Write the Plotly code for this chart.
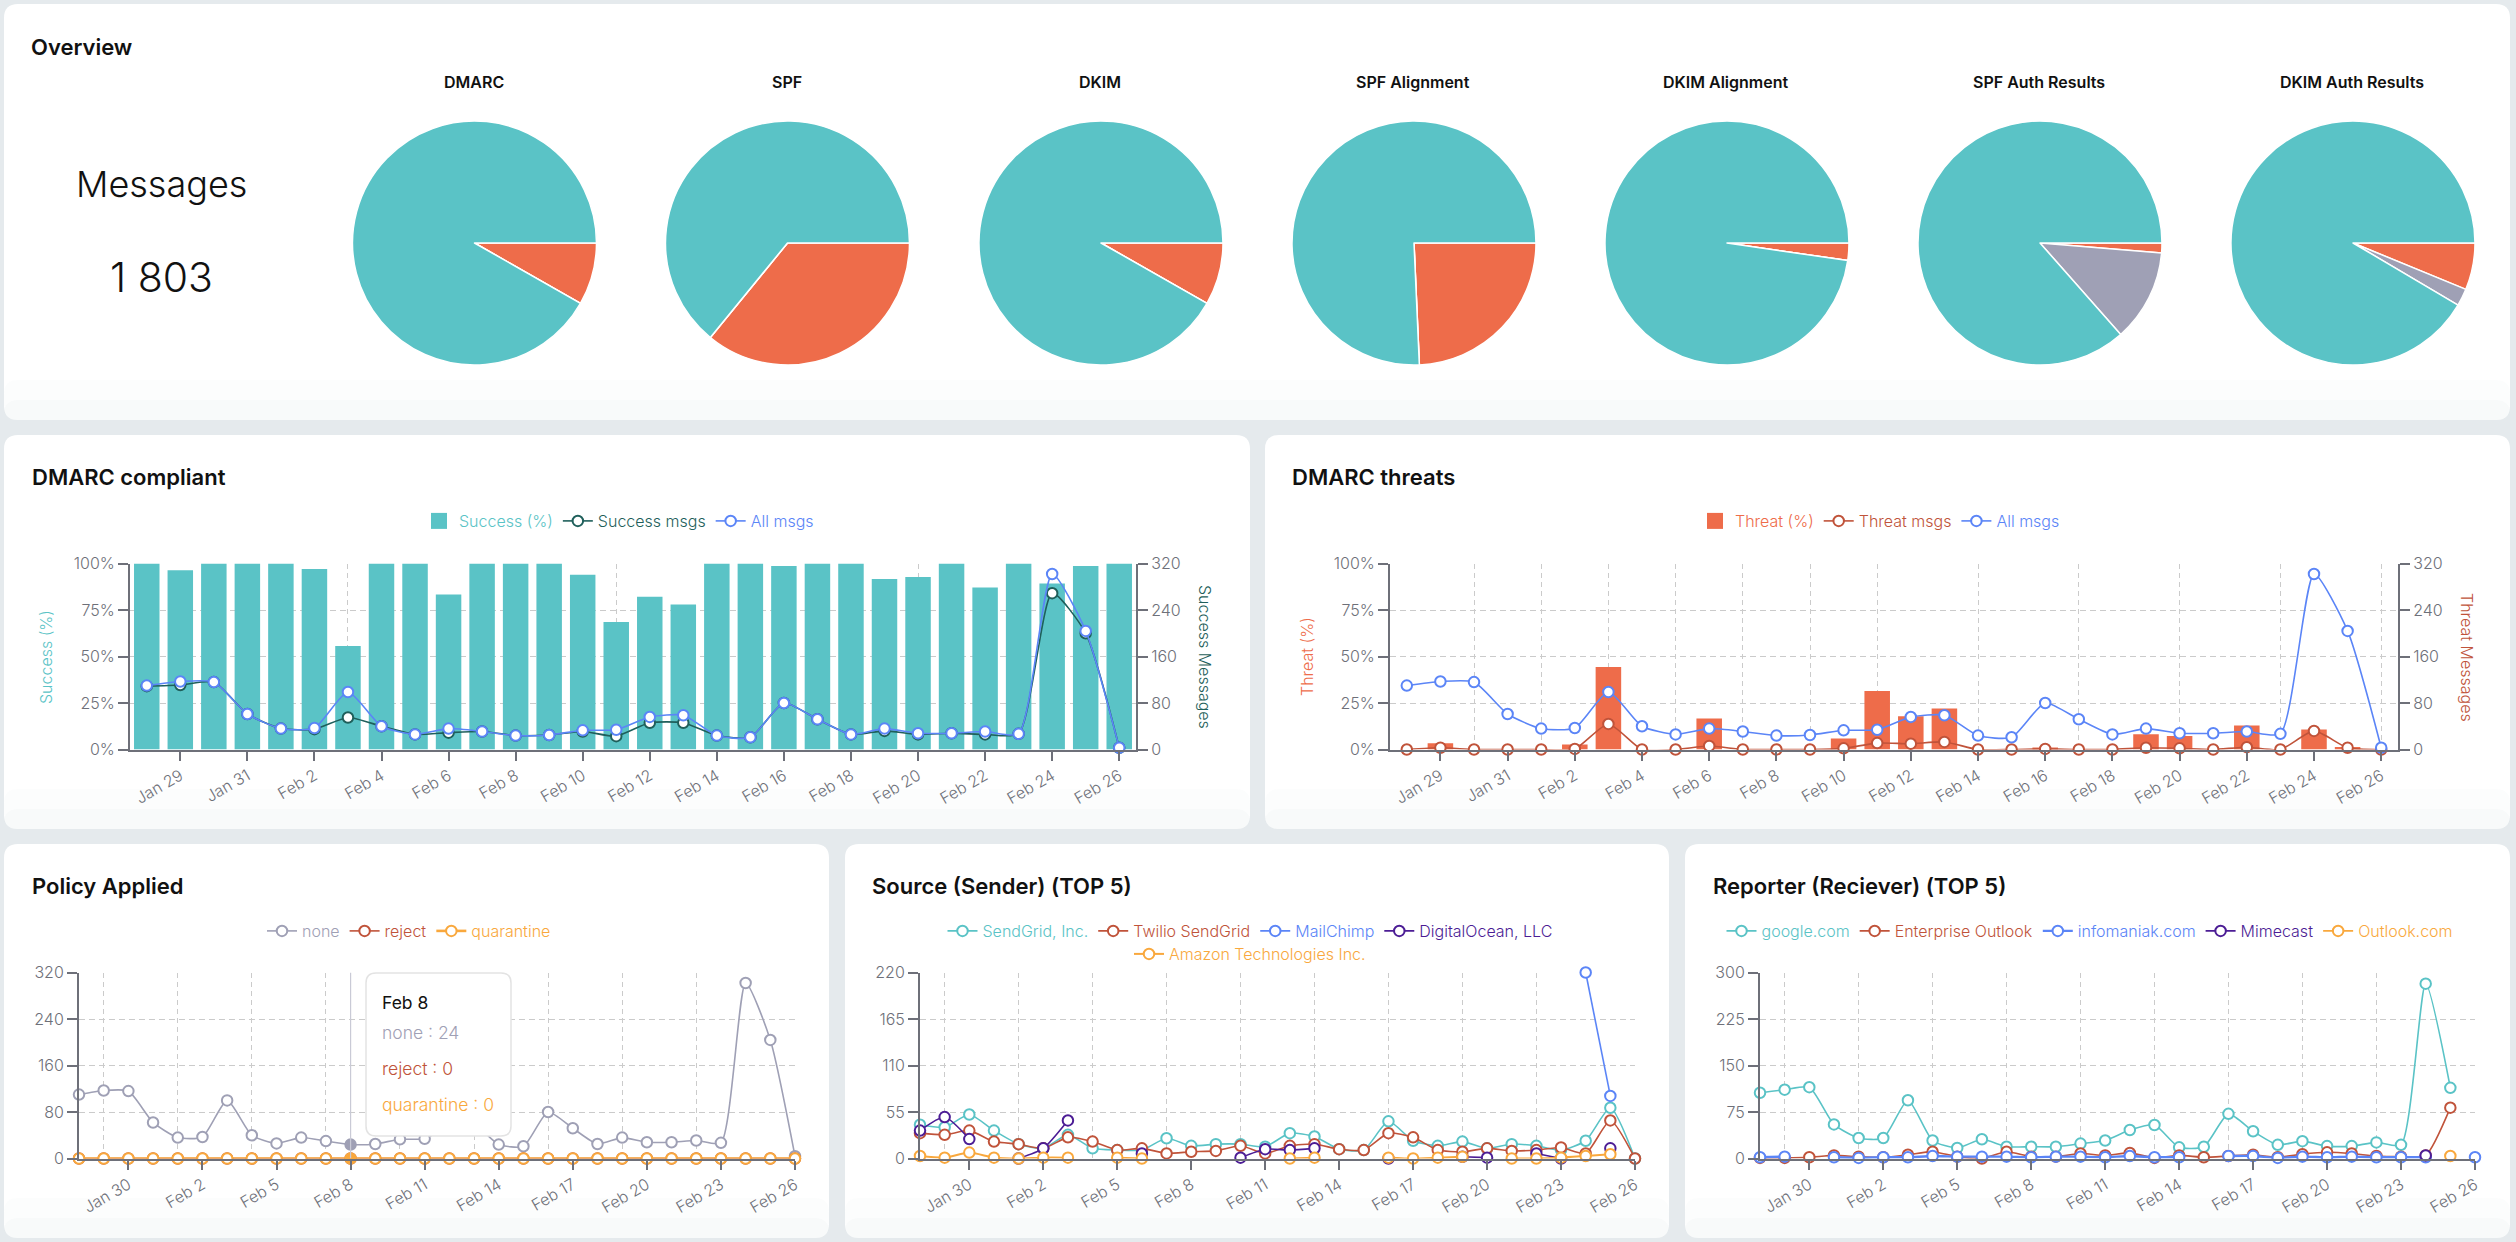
import plotly.graph_objects as go

W = 2516
H = 1242

# dates
days = ["Jan 28", "Jan 29", "Jan 30", "Jan 31"] + [f"Feb {d}" for d in range(1, 27)]

# overview pies
pie_titles = ["DMARC", "SPF", "DKIM", "SPF Alignment", "DKIM Alignment", "SPF Auth Results", "DKIM Auth Results"]
pie_labels = ["Fail", "Other", "Pass"]
pie_fail = [8.25, 35.9, 8.25, 24.3, 2.3, 1.3, 6.2]
pie_other = [0, 0, 0, 0, 0, 12.2, 2.3]
pie_pass = [91.75, 64.1, 91.75, 75.7, 97.7, 86.5, 91.5]

# DMARC compliant / threats
success_pct = [100, 96.4, 100, 100, 100, 97.1, 55.6, 100, 100, 83.3, 100, 100, 100, 93.9, 68.5,
               82.1, 78, 100, 100, 98.6, 100, 100, 91.6, 92.8, 100, 87.1, 100, 89.2, 98.6, 100]
success_msgs = [109, 111, 116, 61, 36, 35, 55, 40, 26, 29, 31, 24, 25, 31, 23,
                46, 46, 24, 21, 80, 52, 26, 32, 26, 28, 26, 27, 269, 200, 3]
all_msgs = [110, 117, 116, 61, 36, 37, 99, 40, 26, 36, 31, 24, 25, 33, 34,
            56, 59, 24, 21, 80, 52, 26, 36, 28, 28, 31, 27, 302, 204, 3]
threat_pct = [0, 3.4, 0, 0, 0, 2.7, 44.3, 0, 0, 16.7, 0, 0, 0, 5.9, 31.4,
              17.9, 22, 0, 0, 1.1, 0, 0, 8.2, 7.2, 0, 12.9, 0, 10.8, 1.4, 0]
threat_msgs = [0, 3, 0, 0, 0, 1, 44, 0, 0, 6, 0, 0, 0, 2, 11,
               10, 13, 0, 0, 1, 0, 0, 3, 2, 0, 4, 0, 32, 3, 0]

# policy applied
policy_none = [110, 117, 116, 62, 36, 37, 100, 40, 26, 36, 30, 24, 25, 33, 34,
               56, 59, 24, 21, 80, 52, 25, 36, 28, 28, 31, 27, 302, 204, 4]
policy_reject = [0] * 30
policy_quarantine = [0] * 30

# source (sender)
sendgrid = [40, 37, 52, 33, 17, 12, 28, 12, 10, 10, 24, 15, 17, 17, 14,
            30, 26, 11, 10, 44, 21, 15, 20, 12, 17, 15, 10, 21, 60, 0]
twilio = [30, 28, 33, 20, 17, 12, 25, 20, 10, 12, 6, 8, 9, 15, 6,
          15, 17, 11, 10, 30, 25, 10, 8, 12, 9, 10, 13, 6, 45, 0]
mailchimp = [None] * 27 + [220, 74, None]
digitalocean = [33, 49, 23, None, 0, 12, 45, None, None, 6, None, None, None, 1, 11,
                10, 12, None, None, 0, None, None, 2, 1, None, 6, 0, None, 12, None]
amazon = [3, 1, 7, 1, 0, 1, 1, None, 1, 0, None, None, None, None, None,
          0, 1, None, None, 1, 0, 1, 2, None, 0, 0, 1, 3, 5, None]

# reporter (receiver)
google = [106, 111, 115, 55, 33, 33, 94, 29, 17, 31, 19, 19, 19, 24, 29,
          46, 54, 18, 19, 72, 44, 22, 28, 20, 20, 26, 22, 282, 114, None]
enterprise = [1, 1, 2, 5, 3, 2, 6, 11, 3, 0, 11, 3, 3, 8, 5,
              9, 1, 5, 2, 4, 6, 2, 7, 10, 8, 4, 3, 5, 82, None]
infomaniak = [2, 3, None, 2, 1, 2, 2, 4, 3, 3, 3, 2, 3, 3, 2,
              4, 2, 2, None, 4, 4, 1, 3, 2, 3, 2, 2, 2, None, 2]
mimecast = [None] * 27 + [5, None, None]
outlook = [None] * 28 + [4, None]

TEAL = "#5AC3C6"
ORANGE = "#EE6C4A"
BLUE = "#5B85F7"
DARK = "#1F5F5B"
RUST = "#C0533A"
PURPLE = "#4C1D95"
AMBER = "#F9A83D"
GREY = "#9FA0B5"
INK = "#111111"
AXIS = "#6E7079"
GRID = "#CBCBCB"
FAMILY = "Inter"


def fx(x):
    return x / W


def fy(y):
    return 1 - y / H


def card(x0, y0, x1, y1, r=14, fill="#FFFFFF"):
    a0, a1, b0, b1 = fx(x0), fx(x1), fy(y0), fy(y1)
    rx, ry = r / W, r / H
    path = (f"M{a0 + rx},{b0} L{a1 - rx},{b0} Q{a1},{b0} {a1},{b0 - ry} "
            f"L{a1},{b1 + ry} Q{a1},{b1} {a1 - rx},{b1} "
            f"L{a0 + rx},{b1} Q{a0},{b1} {a0},{b1 + ry} "
            f"L{a0},{b0 - ry} Q{a0},{b0} {a0 + rx},{b0} Z")
    return dict(type="path", path=path, xref="paper", yref="paper",
                fillcolor=fill, line_width=0, layer="below")


def note(text, x, y, size=16, color=INK, weight=400, angle=0, xanchor="center"):
    return dict(text=text, x=fx(x), y=fy(y), xref="paper", yref="paper", showarrow=False,
                xanchor=xanchor, yanchor="middle", textangle=angle, borderpad=0, borderwidth=0,
                font=dict(family=FAMILY, size=size, color=color, weight=weight))


def tag(name, color):
    return f'<span style="color:{color}">{name}</span>'


def line(x, y, name, color, xaxis, yaxis, legend, fill="#FFFFFF", width=1.6):
    return go.Scatter(x=x, y=y, name=tag(name, color), mode="lines+markers", xaxis=xaxis, yaxis=yaxis,
                      legend=legend, cliponaxis=False, hoverinfo="skip",
                      line=dict(color=color, width=width, shape="spline", smoothing=0.6),
                      marker=dict(size=10.5, color=fill, line=dict(color=color, width=2)))


def swatch(name, color, legend):
    # bar legend icons are fixed and small, this one only carries the legend entry
    return go.Scatter(x=days, y=[None] * len(days), name=tag(name, color), mode="markers", legend=legend,
                      marker=dict(symbol="square", size=16, color=color), hoverinfo="skip")


fig = go.Figure()

shapes = []
for box in [(4, 4, 2510, 420), (4, 435, 1250, 829), (1265, 435, 2510, 829),
            (4, 844, 829, 1238), (845, 844, 1669, 1238), (1685, 844, 2510, 1238)]:
    shapes.append(card(*box))
    shapes.append(card(box[0], box[3] - 40, box[2], box[3], fill="rgba(236,240,242,0.15)"))
    shapes.append(card(box[0], box[3] - 20, box[2], box[3], fill="rgba(236,240,242,0.2)"))

annotations = [
    note("Overview", 31, 47, size=22, weight=600, xanchor="left"),
    note("Messages", 161, 184, size=36, weight=300),
    note("1 803", 161, 277, size=41, weight=300),
    note("DMARC compliant", 32, 477, size=22, weight=600, xanchor="left"),
    note("DMARC threats", 1292, 477, size=22, weight=600, xanchor="left"),
    note("Policy Applied", 32, 886, size=22, weight=600, xanchor="left"),
    note("Source (Sender) (TOP 5)", 872, 886, size=22, weight=600, xanchor="left"),
    note("Reporter (Reciever) (TOP 5)", 1713, 886, size=22, weight=600, xanchor="left"),
    note("Success (%)", 46, 657, color=TEAL, weight=300, angle=-90),
    note("Success Messages", 1205, 657, color=DARK, weight=300, angle=90),
    note("Threat (%)", 1307, 657, color=ORANGE, weight=300, angle=-90),
    note("Threat Messages", 2467, 657, color=RUST, weight=300, angle=90),
]

# pies
pie_x = [474.5, 787.5, 1101, 1414, 1727, 2040, 2353]
for i in range(len(pie_titles)):
    cx = pie_x[i]
    fig.add_trace(go.Pie(labels=pie_labels, values=[pie_fail[i], pie_other[i], pie_pass[i]],
                         sort=False, direction="clockwise", rotation=90, textinfo="none",
                         hoverinfo="skip", showlegend=False,
                         marker=dict(colors=[ORANGE, GREY, TEAL], line=dict(color="#FFFFFF", width=1.5)),
                         domain=dict(x=[fx(cx - 122), fx(cx + 122)], y=[fy(365), fy(121)])))
    annotations.append(note(pie_titles[i], cx - 1, 82, size=16, weight=600))

# combo charts
fig.add_trace(go.Bar(x=days, y=success_pct, showlegend=False, marker=dict(color=TEAL, line_width=0),
                     width=0.76, xaxis="x", yaxis="y", hoverinfo="skip"))
fig.add_trace(swatch("Success (%)", TEAL, "legend"))
fig.add_trace(line(days, success_msgs, "Success msgs", DARK, "x", "y2", "legend"))
fig.add_trace(line(days, all_msgs, "All msgs", BLUE, "x", "y2", "legend"))

fig.add_trace(go.Bar(x=days, y=threat_pct, showlegend=False, marker=dict(color=ORANGE, line_width=0),
                     width=0.76, xaxis="x2", yaxis="y3", hoverinfo="skip"))
fig.add_trace(swatch("Threat (%)", ORANGE, "legend2"))
fig.add_trace(line(days, threat_msgs, "Threat msgs", RUST, "x2", "y4", "legend2"))
fig.add_trace(line(days, all_msgs, "All msgs", BLUE, "x2", "y4", "legend2"))

# policy, with the hovered day drawn solid
hover = days.index("Feb 8")
fig.add_trace(line(days, policy_none, "none", GREY, "x3", "y5", "legend3",
                   fill=[GREY if i == hover else "#FFFFFF" for i in range(30)]))
fig.add_trace(line(days, policy_reject, "reject", RUST, "x3", "y5", "legend3"))
fig.add_trace(line(days, policy_quarantine, "quarantine", AMBER, "x3", "y5", "legend3",
                   fill=[AMBER if i == hover else "#FFFFFF" for i in range(30)], width=2.6))

# source
fig.add_trace(line(days, sendgrid, "SendGrid, Inc.", TEAL, "x4", "y6", "legend4"))
fig.add_trace(line(days, twilio, "Twilio SendGrid", RUST, "x4", "y6", "legend4"))
fig.add_trace(line(days, mailchimp, "MailChimp", BLUE, "x4", "y6", "legend4"))
fig.add_trace(line(days, digitalocean, "DigitalOcean, LLC", PURPLE, "x4", "y6", "legend4"))
fig.add_trace(line(days, amazon, "Amazon Technologies Inc.", AMBER, "x4", "y6", "legend5", width=2))

# reporter
fig.add_trace(line(days, google, "google.com", TEAL, "x5", "y7", "legend6"))
fig.add_trace(line(days, enterprise, "Enterprise Outlook", RUST, "x5", "y7", "legend6"))
fig.add_trace(line(days, infomaniak, "infomaniak.com", BLUE, "x5", "y7", "legend6", width=2.4))
fig.add_trace(line(days, mimecast, "Mimecast", PURPLE, "x5", "y7", "legend6"))
fig.add_trace(line(days, outlook, "Outlook.com", AMBER, "x5", "y7", "legend6"))

tick_font = dict(family=FAMILY, size=16, color=AXIS, weight=300)


def x_axis(x0, x1, ticks, grids, rng, anchor):
    return dict(type="category", categoryorder="array", categoryarray=days, range=rng,
                domain=[fx(x0), fx(x1)], anchor=anchor, showgrid=False, zeroline=False,
                showline=True, linecolor=AXIS, linewidth=2, ticks="outside", ticklen=9,
                tickcolor=AXIS, tickwidth=1.5, tickmode="array",
                tickvals=[days[i] for i in ticks], ticktext=[days[i] for i in ticks],
                tickangle=-30, tickfont=tick_font,
                minor=dict(tickmode="array", tickvals=[days[i] for i in grids], ticks="", showgrid=True,
                           gridcolor=GRID, griddash="5px,4px", gridwidth=1.2))


def y_axis(y0, y1, vals, anchor, side="left", suffix="", overlay=None, grid=True):
    ax = dict(domain=[fy(y1), fy(y0)], range=[0, vals[-1]], tickmode="array", tickvals=vals,
              ticktext=[f"{v}{suffix}" for v in vals], side=side, anchor=anchor, showline=True,
              linecolor=AXIS, linewidth=2, ticks="outside", ticklen=10, tickcolor=AXIS, tickwidth=1.5,
              tickfont=tick_font, zeroline=False, showgrid=grid, gridcolor=GRID,
              griddash="6px,4px", gridwidth=1.4)
    if overlay:
        ax["overlaying"] = overlay
    return ax


combo_ticks = list(range(1, 30, 2))
combo_grids = [2, 4, 6, 8, 10, 12, 14, 17, 20, 23, 26, 29]
line_ticks = list(range(2, 30, 3))
line_grids = [1, 4, 7, 10, 13, 16, 19, 22, 25, 29]
pct_ticks = [0, 25, 50, 75, 100]
msg_ticks = [0, 80, 160, 240, 320]
band = [-0.5, 29.5]
edge = [0, 29]

row2 = (563.5, 749.5)
row3 = (972.5, 1158.5)


def legend_box(x, y):
    return dict(x=fx(x), y=fy(y), xanchor="center", yanchor="middle", orientation="h",
                bgcolor="rgba(0,0,0,0)", itemclick=False, itemdoubleclick=False,
                font=dict(family=FAMILY, size=16, weight=300))


# tooltip on the policy chart
shapes.append(dict(type="line", xref="x3", yref="y5", x0=days[hover], x1=days[hover], y0=0, y1=320,
                   line=dict(color="#C9CAD6", width=1.2), layer="above"))
tip = card(366, 973, 511, 1136, r=10)
tip["layer"] = "above"
tip["line"] = dict(color="#E3E3E3", width=1.5)
tip.pop("line_width")
shapes.append(tip)
annotations += [
    note(days[hover], 382, 1002, size=17.5, xanchor="left"),
    note(f"none : {policy_none[hover]}", 382, 1032, size=17.5, color=GREY, weight=300, xanchor="left"),
    note(f"reject : {policy_reject[hover]}", 382, 1068, size=17.5, color=RUST, weight=300, xanchor="left"),
    note(f"quarantine : {policy_quarantine[hover]}", 382, 1104, size=17.5, color=AMBER, weight=300, xanchor="left"),
]

fig.update_layout(
    width=W, height=H, margin=dict(l=0, r=0, t=0, b=0, autoexpand=False),
    paper_bgcolor="#E5EAED", plot_bgcolor="rgba(0,0,0,0)", barmode="overlay",
    font=dict(family=FAMILY), showlegend=True, shapes=shapes, annotations=annotations,
    xaxis=x_axis(130, 1136, combo_ticks, combo_grids, band, "y"),
    yaxis=y_axis(*row2, pct_ticks, "x", suffix="%"),
    yaxis2=y_axis(*row2, msg_ticks, "x", side="right", overlay="y", grid=False),
    xaxis2=x_axis(1390, 2398, combo_ticks, combo_grids, band, "y3"),
    yaxis3=y_axis(*row2, pct_ticks, "x2", suffix="%"),
    yaxis4=y_axis(*row2, msg_ticks, "x2", side="right", overlay="y3", grid=False),
    xaxis3=x_axis(79, 795, line_ticks, line_grids, edge, "y5"),
    yaxis5=y_axis(*row3, msg_ticks, "x3"),
    xaxis4=x_axis(920, 1635, line_ticks, line_grids, edge, "y6"),
    yaxis6=y_axis(*row3, [0, 55, 110, 165, 220], "x4"),
    xaxis5=x_axis(1760, 2475, line_ticks, line_grids, edge, "y7"),
    yaxis7=y_axis(*row3, [0, 75, 150, 225, 300], "x5"),
    legend=legend_box(619, 521),
    legend2=legend_box(1880, 521),
    legend3=legend_box(409, 931),
    legend4=legend_box(1250, 931),
    legend5=legend_box(1250, 954),
    legend6=legend_box(2090, 931),
)

fig.write_html("out.html", config=dict(displayModeBar=False),
               post_script="document.body.style.margin='0';document.body.style.overflow='hidden';")
